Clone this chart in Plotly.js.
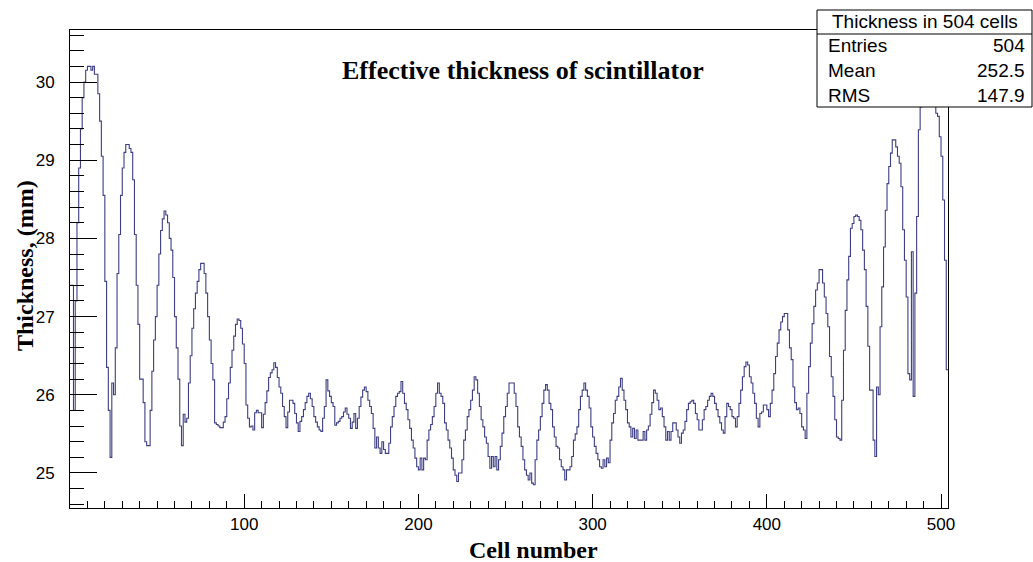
<!DOCTYPE html>
<html>
<head>
<meta charset="utf-8">
<script src="https://cdn.plot.ly/plotly-3.0.1.min.js"></script>
<style>html,body{margin:0;padding:0;background:#fff;}#chart{width:1033px;height:562px;}</style>
</head>
<body>
<div id="chart"></div>
<script>
// Effective thickness (mm) per cell, cells 1..504
const thickness = [
27.4,27.4,25.8,27.2,28.2,28.9,29.4,29.8,30.0,30.15,30.2,30.2,30.15,30.2,30.1,30.1,29.85,29.5,29.05,28.55,27.45,
26.35,25.8,25.2,26.15,26.0,26.6,27.55,28.05,28.55,28.9,29.1,29.2,29.2,29.15,29.1,28.75,28.05,27.4,26.9,26.2,26.2,
25.9,25.4,25.35,25.35,25.8,26.3,26.7,27.0,27.4,27.8,28.1,28.25,28.35,28.3,28.2,28.0,27.85,27.5,27.0,26.6,26.2,
25.6,25.35,25.75,25.65,25.7,26.15,26.5,26.85,27.1,27.3,27.45,27.6,27.68,27.68,27.55,27.3,27.0,26.7,26.4,26.19,25.64,
25.62,25.6,25.58,25.58,25.65,25.72,25.95,26.15,26.35,26.57,26.75,26.9,26.97,26.95,26.85,26.65,26.4,25.87,25.7,25.59,25.6,
25.55,25.77,25.8,25.77,25.77,25.58,25.75,25.9,26.05,26.22,26.28,26.32,26.41,26.35,26.22,26.1,26.02,25.85,25.72,25.58,25.78,
25.93,25.93,25.89,25.76,25.64,25.53,25.66,25.72,25.81,25.9,25.98,26.02,25.95,25.85,25.72,25.65,25.59,25.55,25.53,25.7,25.85,
26.19,26.05,25.98,25.9,25.85,25.61,25.64,25.66,25.7,25.72,25.78,25.83,25.75,25.7,25.57,25.65,25.76,25.57,25.7,25.85,25.97,
26.06,26.1,26.04,25.93,25.85,25.76,25.57,25.32,25.46,25.32,25.25,25.4,25.3,25.25,25.25,25.38,25.59,25.72,25.85,25.98,26.02,
26.04,26.17,26.02,25.89,25.81,25.68,25.57,25.42,25.32,25.19,25.08,25.04,25.19,25.04,25.19,25.17,25.42,25.55,25.62,25.72,25.85,
26.02,26.15,26.02,25.98,25.89,25.64,25.55,25.42,25.32,25.19,25.04,24.97,24.89,25.0,25.0,25.17,25.42,25.55,25.72,25.81,25.93,
26.06,26.23,26.19,26.02,25.85,25.68,25.59,25.46,25.38,25.21,25.06,25.21,25.08,25.21,25.04,25.17,25.34,25.51,25.72,25.85,26.02,
26.15,26.15,26.15,26.02,25.85,25.59,25.46,25.34,25.17,25.04,24.97,24.91,25.0,24.87,24.85,25.17,25.42,25.55,25.72,25.89,26.06,
26.13,26.06,25.89,25.81,25.59,25.46,25.34,25.32,25.17,25.08,25.04,24.91,25.04,25.04,25.08,25.21,25.42,25.5,25.59,25.81,25.98,
26.06,26.15,26.06,25.98,25.83,25.59,25.46,25.34,25.25,25.17,25.08,25.06,25.17,25.08,25.19,25.13,25.42,25.64,25.76,25.93,25.98,
26.1,26.21,26.06,25.93,25.81,25.64,25.59,25.46,25.57,25.44,25.55,25.42,25.42,25.42,25.53,25.42,25.55,25.6,25.75,25.9,26.06,
26.02,25.93,25.81,25.83,25.72,25.59,25.42,25.53,25.42,25.53,25.64,25.64,25.55,25.46,25.38,25.51,25.55,25.66,25.81,25.89,25.91,
25.93,25.89,25.76,25.68,25.55,25.55,25.68,25.81,25.85,25.93,25.98,26.02,25.98,25.89,25.81,25.72,25.64,25.55,25.51,25.72,25.89,
25.85,25.81,25.72,25.7,25.59,25.72,25.89,26.06,26.23,26.36,26.42,26.38,26.23,26.15,26.02,25.89,25.7,25.59,25.76,25.78,25.87,
25.87,25.81,25.72,25.89,26.06,26.27,26.49,26.66,26.83,26.93,27.0,27.04,27.04,26.83,26.6,26.45,26.1,25.9,25.81,25.83,25.76,
25.59,25.55,25.44,26.02,26.36,26.66,26.91,27.13,27.34,27.43,27.6,27.6,27.43,27.25,27.04,26.87,26.49,26.23,25.98,25.68,25.46,
25.44,25.42,25.93,26.57,27.08,27.47,27.77,28.13,28.19,28.28,28.3,28.28,28.23,28.11,27.85,27.6,27.13,26.62,26.06,26.06,25.42,
25.21,26.1,26.0,26.87,27.38,27.89,28.36,28.7,28.92,29.09,29.26,29.26,29.17,29.05,28.96,28.66,28.11,27.72,27.25,26.27,26.19,
27.83,25.98,27.3,28.28,29.39,29.68,30.0,30.3,30.5,30.55,30.55,30.5,30.3,29.95,29.6,29.56,29.3,29.05,28.49,27.72,26.32
];
const cellNumbers = thickness.map((_, i) => i + 1);

const xTickVals = [100, 200, 300, 400, 500];
const yTickVals = [25, 26, 27, 28, 29, 30];

const statsTitle = "Thickness in 504 cells";
const statsLabels = ["Entries", "Mean", "RMS"];
const statsValues = ["504", "252.5", "147.9"];

const chartTitle = "Effective thickness of scintillator";
const xTitle = "Cell number";
const yTitle = "Thickness, (mm)";

// Build histogram step outline: each cell spans [cell-1, cell]
const sx = [], sy = [];
cellNumbers.forEach((c, i) => { sx.push(c - 1, c); sy.push(thickness[i], thickness[i]); });

const trace = {
  x: sx, y: sy, type: 'scatter', mode: 'lines',
  line: {color: '#3e3e84', width: 1.1, shape: 'linear'},
  hoverinfo: 'skip', showlegend: false
};

const L = 70, R = 85, T = 30, B = 54, W = 1033, H = 562;
const pw = W - L - R, ph = H - T - B;
const px = v => (v - L) / pw;
const py = v => (H - B - v) / ph;

const annotations = [
  {text: chartTitle, xref: 'paper', yref: 'paper', x: px(523), y: py(70), showarrow: false,
   font: {family: 'Liberation Serif', size: 26, color: '#000', weight: 'bold'}, xanchor: 'center', yanchor: 'middle'},
  {text: xTitle, xref: 'paper', yref: 'paper', x: px(533), y: py(550), showarrow: false,
   font: {family: 'Liberation Serif', size: 24, color: '#000', weight: 'bold'}, xanchor: 'center', yanchor: 'middle'},
  {text: yTitle, xref: 'paper', yref: 'paper', x: px(25), y: py(266), showarrow: false, textangle: -90,
   font: {family: 'Liberation Serif', size: 24, color: '#000', weight: 'bold'}, xanchor: 'center', yanchor: 'middle'},
  {text: statsTitle, xref: 'paper', yref: 'paper', x: px(925), y: py(22), showarrow: false,
   font: {family: 'Liberation Sans', size: 19, color: '#000'}, xanchor: 'center', yanchor: 'middle'}
];
const rowY = [46, 71, 95];
statsLabels.forEach((lab, i) => {
  annotations.push({text: lab, xref: 'paper', yref: 'paper', x: px(826), y: py(rowY[i]), showarrow: false,
    font: {family: 'Liberation Sans', size: 19, color: '#000'}, xanchor: 'left', yanchor: 'middle'});
  annotations.push({text: statsValues[i], xref: 'paper', yref: 'paper', x: px(1027), y: py(rowY[i]), showarrow: false,
    font: {family: 'Liberation Sans', size: 19, color: '#000'}, xanchor: 'right', yanchor: 'middle'});
});

const shapes = [
  {type: 'rect', xref: 'paper', yref: 'paper', x0: px(817), x1: px(1032), y0: py(107), y1: py(10),
   line: {color: '#000', width: 1}, fillcolor: '#fff', layer: 'above'},
  {type: 'line', xref: 'paper', yref: 'paper', x0: px(817), x1: px(1032), y0: py(34), y1: py(34),
   line: {color: '#000', width: 1}, layer: 'above'}
];

const layout = {
  width: W, height: H,
  margin: {l: L, r: R, t: T, b: B, pad: 0},
  paper_bgcolor: '#fff', plot_bgcolor: '#fff',
  showlegend: false,
  xaxis: {
    range: [0, 504], showgrid: false, zeroline: false,
    showline: true, mirror: true, linecolor: '#000', linewidth: 1,
    ticks: 'inside', ticklen: 14, tickcolor: '#000', tickwidth: 1,
    tickmode: 'array', tickvals: xTickVals, ticktext: xTickVals.map(String),
    minor: {ticks: 'inside', ticklen: 7, dtick: 10, tick0: 0, tickcolor: '#000', showgrid: false},
    tickfont: {family: 'Liberation Sans', size: 17, color: '#000'},
    ticklabelstandoff: 1
  },
  yaxis: {
    range: [24.552, 30.665], showgrid: false, zeroline: false,
    showline: true, mirror: true, linecolor: '#000', linewidth: 1,
    ticks: 'inside', ticklen: 27, tickcolor: '#000', tickwidth: 1,
    tickmode: 'array', tickvals: yTickVals, ticktext: yTickVals.map(String),
    minor: {ticks: 'inside', ticklen: 14, dtick: 0.2, tick0: 25, tickcolor: '#000', showgrid: false},
    tickfont: {family: 'Liberation Sans', size: 17, color: '#000'},
    ticklabelstandoff: 11
  },
  annotations: annotations,
  shapes: shapes
};

Plotly.newPlot('chart', [trace], layout, {staticPlot: true, displayModeBar: false});
</script>
</body>
</html>
